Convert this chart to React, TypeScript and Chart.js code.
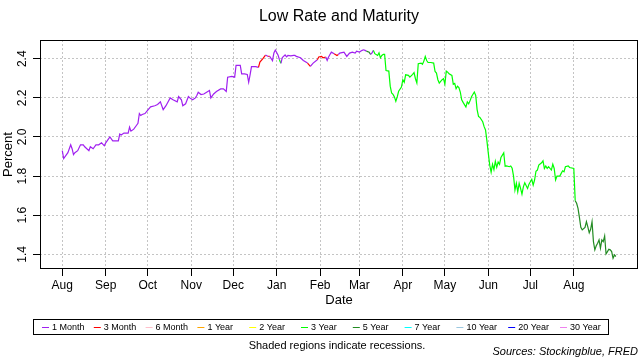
import React, { useEffect, useRef } from "react";
import { Chart, registerables } from "chart.js";

Chart.register(...registerables);

const DAYS = [
  0, 1, 4, 6, 7, 8, 9, 11, 13, 15, 16, 19, 20, 22, 24, 26, 28, 30, 31, 33, 34, 36, 40, 41, 42, 44, 47, 48, 49, 51,
  53, 54, 55, 56, 57, 59, 61, 63, 66, 68, 70, 72, 74, 77, 79, 82, 83, 85, 86, 88, 90, 91, 93, 95, 96, 97, 99, 101, 103, 105,
  106, 108, 110, 113, 115, 117, 118, 121, 123, 124, 127, 128, 130, 132, 133, 134, 135, 138, 140, 141, 143, 145, 147, 148, 150, 151, 152, 154, 155, 156,
  157, 159, 160, 161, 163, 165, 166, 167, 170, 172, 175, 177, 179, 182, 183, 185, 186, 188, 189, 190, 191, 192, 194, 196, 197, 198, 201, 203, 205, 207,
  209, 210, 212, 214, 215, 216, 217, 219, 220, 221, 222, 223, 225, 226, 227, 228, 229, 230, 231, 233, 234, 235, 236, 237, 238, 239, 240, 242, 243, 244,
  245, 247, 248, 250, 251, 252, 253, 254, 256, 257, 258, 259, 260, 261, 263, 265, 266, 267, 268, 269, 271, 272, 273, 274, 275, 276, 278, 279, 280, 281,
  282, 283, 284, 285, 286, 288, 289, 290, 291, 292, 294, 295, 296, 297, 298, 300, 301, 302, 303, 304, 305, 306, 307, 308, 309, 310, 311, 312, 313, 315,
  316, 317, 319, 320, 321, 322, 323, 324, 325, 326, 327, 328, 329, 330, 332, 333, 334, 335, 336, 337, 338, 339, 340, 342, 343, 344, 345, 346, 347, 349,
  350, 351, 352, 353, 355, 356, 357, 358, 359, 361, 362, 365, 366, 367, 368, 369, 370, 371, 373, 374, 375, 376, 377, 378, 379, 380, 381, 382, 383, 384,
  385, 386, 387, 388, 389, 390, 391, 392, 393, 394, 395,
];

// Lowest yield across maturities (percent)
const LOW_RATE = [
  1.93, 1.89, 1.92, 1.96, 1.94, 1.91, 1.92, 1.93, 1.96, 1.96, 1.95, 1.93, 1.95, 1.94, 1.96, 1.96, 1.97, 1.955, 1.97, 1.99, 2.0, 1.98, 1.98, 2.015, 2.01, 2.02, 2.02, 2.05, 2.03, 2.04,
  2.06, 2.07, 2.12, 2.11, 2.115, 2.12, 2.137, 2.154, 2.16, 2.166, 2.18, 2.14, 2.16, 2.2, 2.19, 2.18, 2.207, 2.19, 2.16, 2.17, 2.207, 2.2, 2.19, 2.2, 2.212, 2.229, 2.217, 2.22, 2.229, 2.238,
  2.2, 2.22, 2.233, 2.246, 2.246, 2.233, 2.306, 2.31, 2.306, 2.366, 2.366, 2.323, 2.323, 2.32, 2.28, 2.318, 2.36, 2.36, 2.356, 2.383, 2.4, 2.419, 2.412, 2.412, 2.39, 2.43, 2.445, 2.418, 2.394, 2.377,
  2.406, 2.42, 2.41, 2.417, 2.415, 2.417, 2.417, 2.412, 2.405, 2.391, 2.378, 2.361, 2.378, 2.395, 2.409, 2.412, 2.405, 2.409, 2.392, 2.409, 2.422, 2.434, 2.426, 2.417, 2.422, 2.429, 2.434, 2.412, 2.429, 2.434,
  2.429, 2.439, 2.434, 2.443, 2.446, 2.443, 2.439, 2.434, 2.422, 2.43, 2.443, 2.426, 2.417, 2.43, 2.405, 2.417, 2.422, 2.422, 2.34, 2.337, 2.26, 2.225, 2.218, 2.205, 2.183, 2.205, 2.234, 2.255, 2.293, 2.28,
  2.318, 2.315, 2.306, 2.32, 2.329, 2.298, 2.276, 2.375, 2.378, 2.372, 2.388, 2.412, 2.391, 2.381, 2.381, 2.378, 2.335, 2.327, 2.293, 2.276, 2.293, 2.298, 2.27, 2.337, 2.332, 2.323, 2.315, 2.27, 2.274, 2.247,
  2.26, 2.253, 2.23, 2.19, 2.177, 2.153, 2.18, 2.17, 2.186, 2.206, 2.23, 2.213, 2.14, 2.105, 2.1, 2.078, 2.053, 2.036, 1.98, 1.916, 1.856, 1.82, 1.86, 1.833, 1.876, 1.845, 1.872, 1.86, 1.895, 1.919,
  1.85, 1.852, 1.848, 1.852, 1.84, 1.8, 1.729, 1.763, 1.72, 1.763, 1.737, 1.708, 1.745, 1.766, 1.737, 1.759, 1.771, 1.783, 1.754, 1.78, 1.825, 1.831, 1.856, 1.868, 1.878, 1.839, 1.852, 1.839, 1.848, 1.831,
  1.861, 1.839, 1.78, 1.8, 1.8, 1.814, 1.827, 1.822, 1.848, 1.852, 1.844, 1.839, 1.674, 1.661, 1.635, 1.589, 1.538, 1.525, 1.538, 1.567, 1.54, 1.51, 1.528, 1.567, 1.465, 1.423, 1.444, 1.457, 1.474, 1.432,
  1.474, 1.465, 1.494, 1.402, 1.414, 1.426, 1.423, 1.414, 1.38, 1.397, 1.389,
];

// Which maturity holds the lowest rate, from the given day onward
const MATURITY_RUNS: [number, string][] = [
  [0, "1 Month"], [141, "3 Month"], [146, "1 Month"], [148, "3 Month"], [149, "1 Month"],
  [156, "3 Year"], [157, "1 Month"], [177, "3 Month"], [178, "1 Month"], [183, "3 Month"],
  [189, "1 Month"], [196, "3 Month"], [198, "1 Month"], [219, "5 Year"], [221, "1 Month"],
  [223, "3 Year"], [367, "5 Year"],
];

const MATURITIES = ["1 Month", "3 Month", "6 Month", "1 Year", "2 Year", "3 Year", "5 Year", "7 Year", "10 Year", "20 Year", "30 Year"];
const MATURITY_COLORS = ["#A020F0", "#FF0000", "#FFC0CB", "#FFA500", "#FFFF00", "#00FF00", "#228B22", "#00FFFF", "#9CC8E0", "#0000FF", "#EE82EE"];

const MONTH_STARTS = [0, 31, 61, 92, 122, 153, 184, 212, 243, 273, 304, 334, 365];
const MONTH_LABELS = ["Aug", "Sep", "Oct", "Nov", "Dec", "Jan", "Feb", "Mar", "Apr", "May", "Jun", "Jul", "Aug"];
const Y_TICKS = [1.4, 1.6, 1.8, 2.0, 2.2, 2.4];

const FONT = '"Liberation Sans", Arial, Helvetica, sans-serif';

function colorForDay(day: number): string {
  let m = MATURITY_RUNS[0][1];
  for (const [start, mat] of MATURITY_RUNS) {
    if (day >= start) m = mat;
  }
  return MATURITY_COLORS[MATURITIES.indexOf(m)];
}

const decorPlugin = {
  id: "decor",
  afterDraw(chart: any) {
    const { ctx, chartArea } = chart;
    const { left, right, top, bottom } = chartArea;
    const cx = (left + right) / 2;
    ctx.save();
    // frame
    ctx.strokeStyle = "#000";
    ctx.lineWidth = 1;
    ctx.setLineDash([]);
    ctx.strokeRect(left + 0.5, top + 0.5, right - left - 1, bottom - top - 1);

    // title
    ctx.fillStyle = "#000";
    ctx.textAlign = "center";
    ctx.textBaseline = "middle";
    ctx.font = `16px ${FONT}`;
    ctx.fillText("Low Rate and Maturity", cx, 17);

    // rotated y tick labels
    const ys = chart.scales.y;
    ctx.font = `12px ${FONT}`;
    for (const t of ys.ticks) {
      const py = ys.getPixelForValue(t.value);
      ctx.save();
      ctx.translate(23, py);
      ctx.rotate(-Math.PI / 2);
      ctx.fillText(Number(t.value).toFixed(1), 0, 0);
      ctx.restore();
    }

    // axis titles
    ctx.font = `13px ${FONT}`;
    ctx.fillText("Date", cx, 300);
    ctx.save();
    ctx.translate(8, (top + bottom) / 2);
    ctx.rotate(-Math.PI / 2);
    ctx.fillText("Percent", 0, 0);
    ctx.restore();

    // legend
    ctx.strokeStyle = "#000";
    ctx.strokeRect(33.5, 319.5, 575, 15);
    ctx.font = `9px ${FONT}`;
    ctx.textAlign = "left";
    MATURITIES.forEach((m, i) => {
      const x = 42 + i * 51.8;
      ctx.strokeStyle = MATURITY_COLORS[i];
      ctx.beginPath();
      ctx.moveTo(x, 327.5);
      ctx.lineTo(x + 7, 327.5);
      ctx.stroke();
      ctx.fillStyle = "#000";
      ctx.fillText(m, x + 10, 327.5);
    });

    // notes
    ctx.font = `11px ${FONT}`;
    ctx.textAlign = "center";
    ctx.fillText("Shaded regions indicate recessions.", 337, 346);
    ctx.font = `italic 11px ${FONT}`;
    ctx.textAlign = "right";
    ctx.fillText("Sources: Stockingblue, FRED", 638, 352);
    ctx.restore();
  },
};

export default function App() {
  const canvasRef = useRef<HTMLCanvasElement | null>(null);

  useEffect(() => {
    const canvas = canvasRef.current;
    if (!canvas) return;
    Chart.defaults.font.family = FONT;
    const points = DAYS.map((d, i) => ({ x: d, y: LOW_RATE[i] }));
    const chart = new Chart(canvas, {
      type: "line",
      data: {
        datasets: [
          {
            label: "Low Rate",
            data: points,
            borderColor: MATURITY_COLORS[0],
            borderWidth: 1.2,
            pointRadius: 0,
            tension: 0,
            segment: {
              borderColor: (c: any) => colorForDay(c.p1.parsed.x),
            },
          },
        ],
      },
      options: {
        responsive: false,
        animation: false,
        layout: { padding: { top: 40, right: 2, left: 0, bottom: 0 } },
        plugins: {
          legend: { display: false },
          title: { display: false },
          tooltip: { enabled: false },
        },
        scales: {
          x: {
            type: "linear",
            min: -15.9,
            max: 410.8,
            afterFit: (s: any) => {
              s.height = 91;
            },
            afterBuildTicks: (s: any) => {
              s.ticks = MONTH_STARTS.map((v) => ({ value: v }));
            },
            ticks: {
              autoSkip: false,
              maxRotation: 0,
              minRotation: 0,
              padding: 2,
              color: "#000",
              font: { size: 12, family: FONT },
              callback: (v: any) => {
                const i = MONTH_STARTS.indexOf(Number(v));
                return i >= 0 ? MONTH_LABELS[i] : "";
              },
            },
            grid: {
              color: "#c4c4c4",
              lineWidth: 1,
              tickLength: 7,
              tickColor: "#000",
              tickBorderDash: [],
            },
            border: { display: false, dash: [2, 2] },
          },
          y: {
            type: "linear",
            min: 1.325,
            max: 2.496,
            afterFit: (s: any) => {
              s.width = 40;
            },
            afterBuildTicks: (s: any) => {
              s.ticks = Y_TICKS.map((v) => ({ value: v }));
            },
            ticks: {
              color: "rgba(0,0,0,0)",
              font: { size: 12, family: FONT },
            },
            grid: {
              color: "#c4c4c4",
              lineWidth: 1,
              tickLength: 7,
              tickColor: "#000",
              tickBorderDash: [],
            },
            border: { display: false, dash: [2, 2] },
          },
        },
      },
      plugins: [decorPlugin],
    });
    return () => chart.destroy();
  }, []);

  return (
    <div style={{ position: "fixed", left: 0, top: 0, width: 640, height: 360, background: "#fff" }}>
      <canvas ref={canvasRef} width={640} height={360} style={{ display: "block" }} />
    </div>
  );
}
